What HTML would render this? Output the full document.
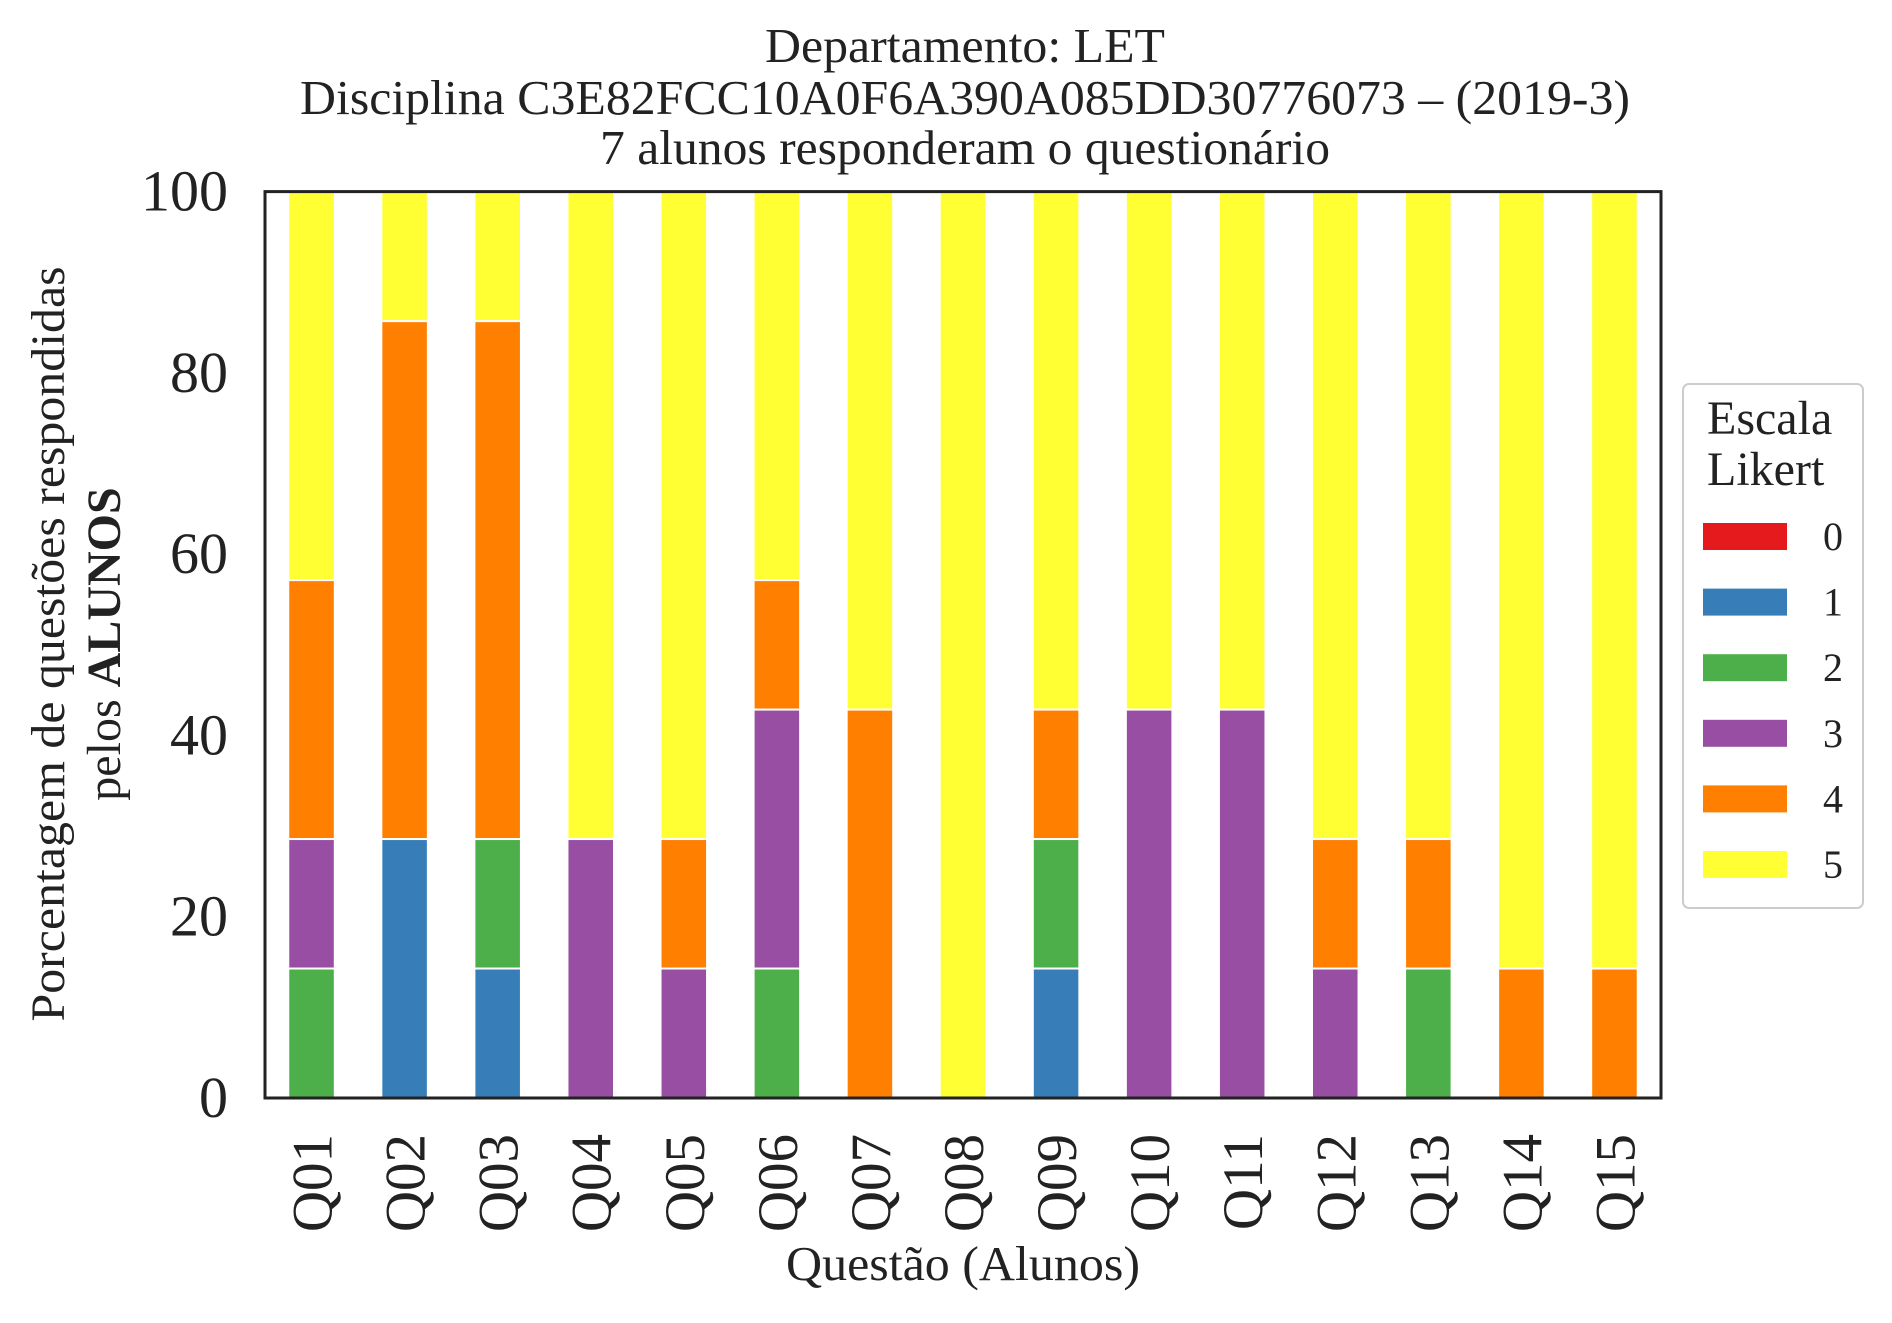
<!DOCTYPE html>
<html><head><meta charset="utf-8"><style>body{margin:0;background:#fff}svg{display:block}text{font-family:"Liberation Serif",serif;fill:#222}</style></head>
<body>
<svg id="chart" width="1892" height="1323" viewBox="0 0 1892 1323" xmlns="http://www.w3.org/2000/svg">
<g>
<text x="965" y="62" font-size="49" text-anchor="middle" textLength="400" lengthAdjust="spacingAndGlyphs">Departamento: LET</text>
<text x="965" y="114" font-size="49" text-anchor="middle" textLength="1330" lengthAdjust="spacingAndGlyphs">Disciplina C3E82FCC10A0F6A390A085DD30776073 – (2019-3)</text>
<text x="965" y="164" font-size="49" text-anchor="middle" textLength="730" lengthAdjust="spacingAndGlyphs">7 alunos responderam o questionário</text>
</g>
<g id="bars"></g>
<g id="yticks"></g>
<g id="xticks"></g>
<rect id="frame" fill="none" stroke="#222" stroke-width="3"/>
<g transform="translate(0,644) rotate(-90)">
<text x="0" y="64" font-size="48" text-anchor="middle" textLength="755" lengthAdjust="spacingAndGlyphs">Porcentagem de questões respondidas</text>
<text x="0" y="120" font-size="48" text-anchor="middle">pelos <tspan font-weight="bold">ALUNOS</tspan></text>
</g>
<text x="963" y="1280" font-size="49" text-anchor="middle" textLength="354" lengthAdjust="spacingAndGlyphs">Questão (Alunos)</text>
<g id="legend">
<rect x="1683" y="384" width="180" height="524" rx="6" fill="#fff" stroke="#ccc" stroke-width="2"/>
<text x="1707" y="434" font-size="48">Escala</text>
<text x="1707" y="485" font-size="48">Likert</text>
</g>
</svg>
<script>
const categories=["Q01","Q02","Q03","Q04","Q05","Q06","Q07","Q08","Q09","Q10","Q11","Q12","Q13","Q14","Q15"];
const levels=["0","1","2","3","4","5"];
const colors=["#e41a1c","#377eb8","#4daf4a","#984ea3","#ff7f00","#ffff33"];
const total=7;
const s0=[0,0,0,0,0,0,0,0,0,0,0,0,0,0,0];
const s1=[0,2,1,0,0,0,0,0,1,0,0,0,0,0,0];
const s2=[1,0,1,0,0,1,0,0,1,0,0,0,1,0,0];
const s3=[1,0,0,2,1,2,0,0,0,3,3,1,0,0,0];
const s4=[2,4,4,0,1,1,3,0,1,0,0,1,1,1,1];
const s5=[3,1,1,5,5,3,4,7,4,4,4,5,5,6,6];
const yTicks=[0,20,40,60,80,100];
const series=[s0,s1,s2,s3,s4,s5];
const NS="http://www.w3.org/2000/svg";
const L=265,R=1661,T=191.6,B=1098;
const fr=document.getElementById('frame');
fr.setAttribute('x',L);fr.setAttribute('y',T);fr.setAttribute('width',R-L);fr.setAttribute('height',B-T);
const step=(R-L)/categories.length;
const xc=i=>L+step*(i+0.5);
const y=v=>B-(B-T)*v/100;
const bars=document.getElementById('bars');
categories.forEach((c,i)=>{
  let acc=0;
  series.forEach((s,k)=>{
    const v=s[i]/total*100;
    if(v<=0)return;
    const r=document.createElementNS(NS,'rect');
    r.setAttribute('x',xc(i)-step*0.25);
    r.setAttribute('width',step*0.5);
    r.setAttribute('y',y(acc+v));
    r.setAttribute('height',y(acc)-y(acc+v));
    r.setAttribute('fill',colors[k]);
    r.setAttribute('stroke','#fff');
    r.setAttribute('stroke-width','2');
    
    
    bars.appendChild(r);
    acc+=v;
  });
});
const yt=document.getElementById('yticks');
yTicks.forEach(t=>{
  const e=document.createElementNS(NS,'text');
  e.setAttribute('x',228);e.setAttribute('y',y(t)+19);
  e.setAttribute('font-size','58');e.setAttribute('text-anchor','end');
  e.textContent=t;
  
  
  yt.appendChild(e);
});
const xt=document.getElementById('xticks');
categories.forEach((c,i)=>{
  const e=document.createElementNS(NS,'text');
  e.setAttribute('transform','translate('+(xc(i)+20)+',1134) rotate(-90)');
  e.setAttribute('font-size','57');e.setAttribute('text-anchor','end');
  e.textContent=c;
  
  
  xt.appendChild(e);
});
const lg=document.getElementById('legend');
levels.forEach((l,k)=>{
  const yy=523+k*65.6;
  const r=document.createElementNS(NS,'rect');
  r.setAttribute('x',1703);r.setAttribute('y',yy);r.setAttribute('width',84);r.setAttribute('height',27);
  r.setAttribute('fill',colors[k]);
  
  
  lg.appendChild(r);
  const e=document.createElementNS(NS,'text');
  e.setAttribute('x',1833);e.setAttribute('y',yy+27);
  e.setAttribute('font-size','40');e.setAttribute('text-anchor','middle');
  e.textContent=l;
  
  
  lg.appendChild(e);
});
</script>
</body></html>
